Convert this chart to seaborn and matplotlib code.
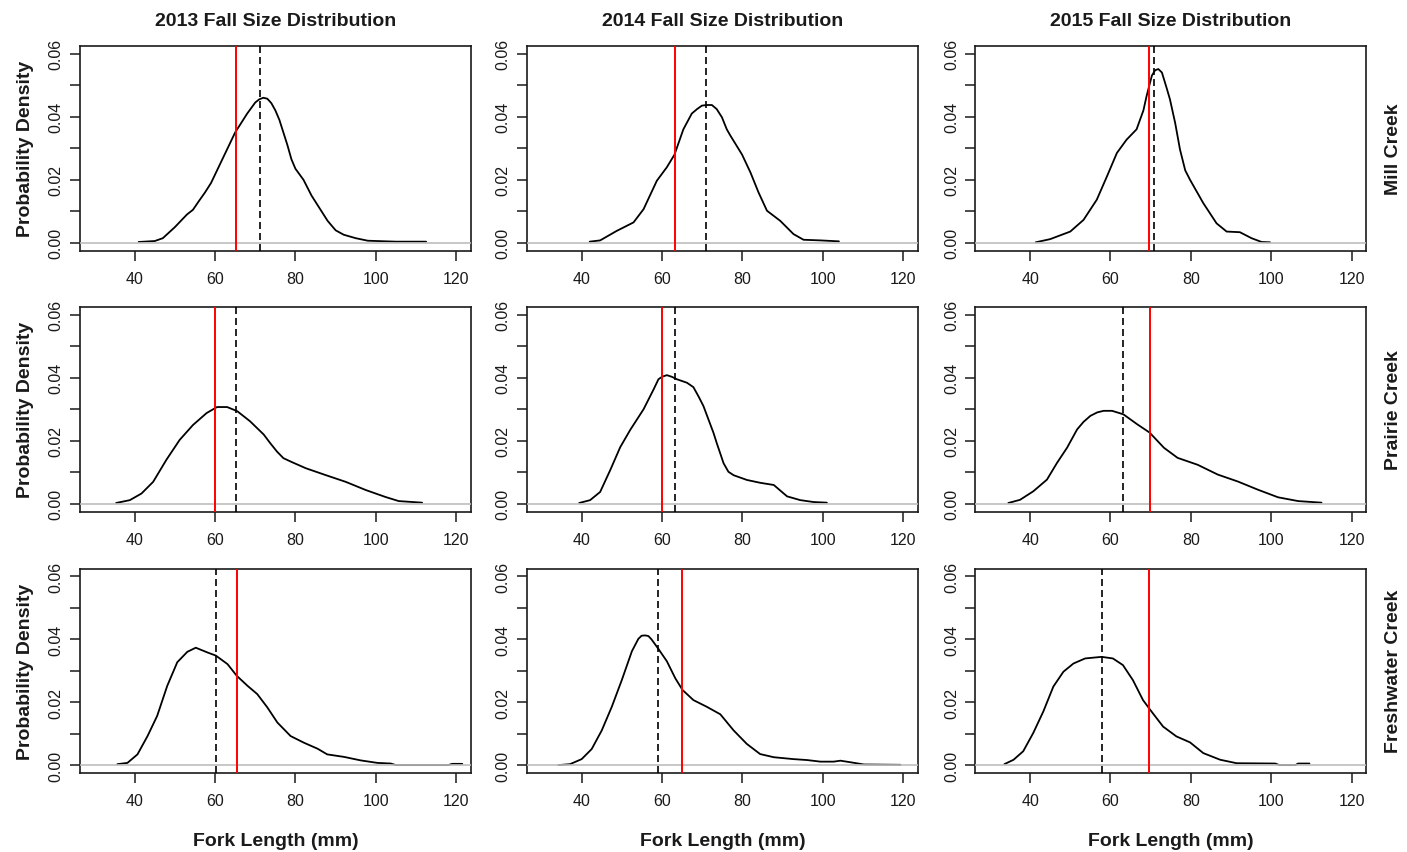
import matplotlib
matplotlib.use("Agg")
import matplotlib.pyplot as plt
import seaborn as sns
import pandas as pd

# ---------------- data ----------------
years = ["2013", "2014", "2015"]
sites = ["Mill Creek", "Prairie Creek", "Freshwater Creek"]

mill_2013_x = [41, 45, 47, 50, 53, 54.5, 56, 57.5, 59, 62, 65, 68, 70, 71, 72, 73, 74, 75, 76, 77, 78, 79, 80, 82, 84,
               86, 88, 90, 92, 95, 98, 105, 112.5]
mill_2013_y = [0.0003, 0.0006, 0.0015, 0.005, 0.009, 0.0105, 0.0133, 0.016, 0.019, 0.027, 0.035, 0.041, 0.0445, 0.0455,
               0.046, 0.0457, 0.0443, 0.042, 0.039, 0.035, 0.031, 0.0265, 0.0235, 0.020, 0.015, 0.011, 0.007, 0.004,
               0.0026, 0.0015, 0.0007, 0.0004, 0.0004]

mill_2014_x = [42, 44.6, 48.7, 52.9, 55.4, 58.7, 61.2, 63.1, 65.3, 67.4, 68.7, 69.9, 71.1, 72.4, 73.6, 74.9, 76.1, 77,
               79.9, 82, 84, 86.1, 89.4, 92.7, 95.2, 99.4, 104]
mill_2014_y = [0.0004, 0.0008, 0.0038, 0.0065, 0.0107, 0.0197, 0.024, 0.028, 0.036, 0.041, 0.0424, 0.0435, 0.0437,
               0.0437, 0.0424, 0.0398, 0.036, 0.034, 0.028, 0.0223, 0.016, 0.0102, 0.007, 0.0028, 0.001, 0.0008,
               0.0005]

mill_2015_x = [41.4, 45, 50, 53.3, 56.6, 59.1, 61.6, 64, 66.5, 68.2, 69, 70.3, 71.1, 71.9, 72.8, 74, 74.8, 76.1, 77.3,
               78.6, 79.8, 83.1, 86.4, 88.9, 92.2, 95.1, 97.6, 99.7]
mill_2015_y = [0.0002, 0.0012, 0.0036, 0.0073, 0.0137, 0.021, 0.0285, 0.0327, 0.036, 0.042, 0.0466, 0.053, 0.0547,
               0.0551, 0.054, 0.049, 0.0455, 0.038, 0.0296, 0.023, 0.020, 0.0126, 0.0062, 0.0036, 0.0034, 0.0015,
               0.0003, 0.0002]

prairie_2013_x = [35.4, 38.8, 41.7, 44.6, 47.9, 51.2, 54.5, 57.9, 60.5, 63, 65.5, 68.7, 72.1, 73.7, 75.4, 77, 79.2,
                  82.6, 87.6, 92.5, 97.5, 102.4, 105.7, 111.5]
prairie_2013_y = [0.0003, 0.0012, 0.0033, 0.007, 0.014, 0.0203, 0.025, 0.0288, 0.0307, 0.0307, 0.0294, 0.0262, 0.022,
                  0.0193, 0.0166, 0.0145, 0.0132, 0.0113, 0.0091, 0.007, 0.0044, 0.0022, 0.0009, 0.0004]

prairie_2014_x = [39.4, 42.1, 44.6, 47.1, 49.6, 52.1, 55.4, 57.9, 59.1, 60, 61.2, 62.4, 63.7, 66.2, 67.8, 69.1, 70.3,
                  72.8, 73.6, 75.3, 76.5, 77.8, 81.1, 84.4, 87.8, 91.1, 94.4, 97.7, 101]
prairie_2014_y = [0.0003, 0.0012, 0.0038, 0.0107, 0.018, 0.0235, 0.030, 0.0363, 0.0395, 0.0403, 0.0408, 0.0403,
                  0.0395, 0.0384, 0.037, 0.034, 0.031, 0.0225, 0.0193, 0.0129, 0.0102, 0.0091, 0.0076, 0.0067, 0.006,
                  0.0024, 0.0012, 0.0006, 0.0004]

prairie_2015_x = [34.6, 37.5, 40.8, 44.2, 46.7, 49.2, 51.7, 53.3, 55, 56.7, 58.3, 60.4, 63.2, 66.7, 69.75, 73.3, 76.7,
                  81.7, 86.7, 91.7, 96.7, 101.7, 106.7, 112.5]
prairie_2015_y = [0.0003, 0.0013, 0.004, 0.0077, 0.013, 0.0178, 0.0236, 0.026, 0.0279, 0.029, 0.0295, 0.0295, 0.0284,
                  0.0252, 0.0226, 0.0178, 0.0146, 0.0124, 0.0093, 0.0071, 0.0045, 0.0021, 0.0009, 0.0004]

fresh_2013_x = [35.7, 38.2, 40.7, 43.2, 45.6, 48.1, 50.6, 53.1, 55.2, 58.1, 60.2, 63.1, 65.4, 68.1, 70.5, 73, 75.5,
                78.8, 82.1, 85.5, 87.9, 92.1, 96.2, 100.4, 103.7, 105, 118, 119, 121.5]
fresh_2013_y = [0.0004, 0.0008, 0.0035, 0.0093, 0.0157, 0.0252, 0.0327, 0.036, 0.0373, 0.0358, 0.0348, 0.0321, 0.0284,
                0.0252, 0.0226, 0.0184, 0.0136, 0.0093, 0.0072, 0.0053, 0.0035, 0.0027, 0.0016, 0.0008, 0.0006,
                0.0001, 0.0001, 0.0005, 0.0005]

fresh_2014_x = [34.2, 37.1, 40, 42.5, 45, 47.5, 50, 52.5, 54.1, 54.9, 55.8, 56.6, 57.4, 59.1, 61.2, 63.3, 65.1, 67.8,
                71.1, 74.5, 77.8, 81.1, 84.4, 87.8, 92.7, 96.1, 99.4, 102.7, 104.4, 106.9, 110.2, 119.3]
fresh_2014_y = [0.0001, 0.0004, 0.002, 0.0052, 0.0111, 0.0186, 0.0271, 0.0362, 0.0401, 0.0411, 0.0412, 0.041, 0.0399,
                0.0369, 0.033, 0.0276, 0.0239, 0.0207, 0.0186, 0.0162, 0.0111, 0.0068, 0.0036, 0.0026, 0.002, 0.0017,
                0.0012, 0.0012, 0.0015, 0.001, 0.0003, 0.0002]

fresh_2015_x = [33.6, 35.9, 38.3, 40.8, 43.3, 45.8, 48.3, 50.8, 53.7, 57.8, 60.6, 63.1, 65.6, 68.1, 70.2, 73.1, 76.4,
                79.8, 83.1, 87.3, 91.4, 101, 102, 106, 106.7, 109.5]
fresh_2015_y = [0.0004, 0.0018, 0.0045, 0.0103, 0.0171, 0.025, 0.0297, 0.0323, 0.0339, 0.0344, 0.0339, 0.0318, 0.027,
                0.0207, 0.0171, 0.0123, 0.0092, 0.0073, 0.0039, 0.0018, 0.0007, 0.0006, 0.0001, 0.0001, 0.0006,
                0.0006]

# reference lines (red solid, black dashed), row-major: Mill, Prairie, Freshwater x 2013..2015
red_lines = [65.3, 63.1, 69.7, 60.0, 60.0, 69.75, 65.4, 64.9, 69.7]
dashed_lines = [71.3, 71.0, 70.8, 65.2, 63.1, 63.2, 60.2, 58.9, 57.8]

x_ticks = [40, 60, 80, 100, 120]
y_ticks = [0.00, 0.01, 0.02, 0.03, 0.04, 0.05, 0.06]
y_tick_labels = ["0.00", "", "0.02", "", "0.04", "", "0.06"]

curves = [
    (mill_2013_x, mill_2013_y), (mill_2014_x, mill_2014_y), (mill_2015_x, mill_2015_y),
    (prairie_2013_x, prairie_2013_y), (prairie_2014_x, prairie_2014_y), (prairie_2015_x, prairie_2015_y),
    (fresh_2013_x, fresh_2013_y), (fresh_2014_x, fresh_2014_y), (fresh_2015_x, fresh_2015_y),
]

# ---------------- styling ----------------
sns.set_style("white")
plt.rcParams["font.family"] = ["Liberation Sans", "DejaVu Sans"]
plt.rcParams["lines.solid_joinstyle"] = "round"

W, H = 1407, 853
fig = plt.figure(figsize=(W / 100, H / 100), dpi=100)

col_left = [80, 527, 975.4]
col_w = 390.7
row_top = [47, 308, 569.5]
row_h = 204.5
ink = "#1a1a1a"

for r in range(3):
    for c in range(3):
        k = r * 3 + c
        left = col_left[c] / W
        bottom = 1 - (row_top[r] + row_h) / H
        ax = fig.add_axes([left, bottom, col_w / W, row_h / H])
        cx, cy = curves[k]
        df = pd.DataFrame({"x": cx, "y": cy})
        sns.lineplot(data=df, x="x", y="y", ax=ax, color="black", lw=1.3,
                     estimator=None, sort=False, zorder=2)
        ax.axhline(0, color="#BEBEBE", lw=1.2, zorder=3)
        ax.axvline(red_lines[k], color="#FF0000", lw=1.4, zorder=4)
        ax.axvline(dashed_lines[k], color="black", lw=1.2, ls=(0, (4.2, 2.4)), zorder=4)
        ax.set_xlim(26.4, 123.6)
        ax.set_ylim(-0.0024, 0.0624)
        ax.set_xticks(x_ticks)
        ax.set_xticklabels([str(t) for t in x_ticks])
        ax.set_yticks(y_ticks)
        ax.set_yticklabels(y_tick_labels)
        ax.set_xlabel("")
        ax.set_ylabel("")
        for sp in ax.spines.values():
            sp.set_linewidth(1.2)
            sp.set_color(ink)
            sp.set_visible(True)
        ax.tick_params(direction="out", length=7.5, width=1.1, color=ink,
                       labelsize=11.5, labelcolor=ink, bottom=True, left=True)
        ax.tick_params(axis="x", pad=7)
        ax.tick_params(axis="y", pad=4.3)
        plt.setp(ax.get_yticklabels(), rotation=90, va="center")

        cxp = col_left[c] + col_w / 2
        cyp = row_top[r] + row_h / 2
        if r == 0:
            fig.text(cxp / W, 1 - 26 / H, f"{years[c]} Fall Size Distribution",
                     ha="center", va="baseline", fontsize=14, fontweight="bold", color=ink)
        if r == 2:
            fig.text(cxp / W, 1 - 846 / H, "Fork Length (mm)",
                     ha="center", va="baseline", fontsize=14, fontweight="bold", color=ink)
        if c == 0:
            fig.text(26 / W, 1 - cyp / H, "Probability Density", rotation=90,
                     ha="center", va="center", fontsize=14, fontweight="bold", color=ink)
        if c == 2:
            fig.text(1393 / W, 1 - cyp / H, sites[r], rotation=90,
                     ha="center", va="center", fontsize=14, fontweight="bold", color=ink)

fig.savefig("out.png", dpi=100, facecolor="white")
